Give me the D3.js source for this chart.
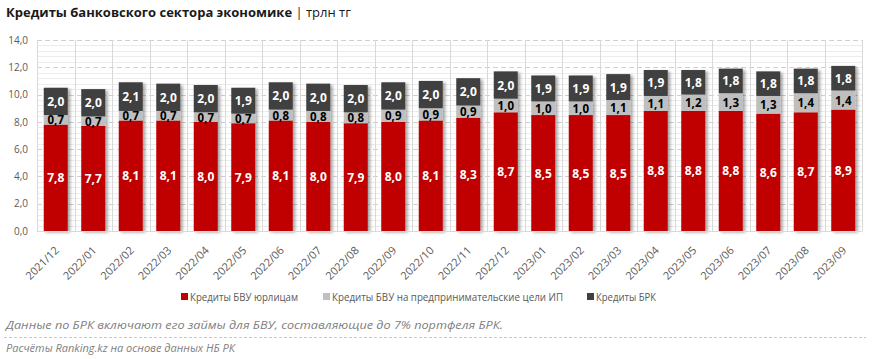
<!DOCTYPE html>
<html><head><meta charset="utf-8">
<script src="https://cdn.jsdelivr.net/npm/d3@7"></script>
<style>
body{margin:0;background:#fff;}
svg{display:block;}
</style></head>
<body>
<svg id="c" width="872" height="359"></svg>
<script>
const categories = ["2021/12","2022/01","2022/02","2022/03","2022/04","2022/05","2022/06","2022/07","2022/08","2022/09","2022/10","2022/11","2022/12","2023/01","2023/02","2023/03","2023/04","2023/05","2023/06","2023/07","2023/08","2023/09"];
const bvuCorp = [7.8,7.7,8.1,8.1,8.0,7.9,8.1,8.0,7.9,8.0,8.1,8.3,8.7,8.5,8.5,8.5,8.8,8.8,8.8,8.6,8.7,8.9];
const bvuIP   = [0.7,0.7,0.7,0.7,0.7,0.7,0.8,0.8,0.8,0.9,0.9,0.9,1.0,1.0,1.0,1.1,1.1,1.2,1.3,1.3,1.4,1.4];
const brk     = [2.0,2.0,2.1,2.0,2.0,1.9,2.0,2.0,2.0,2.0,2.0,2.0,2.0,1.9,1.9,1.9,1.9,1.8,1.8,1.8,1.8,1.8];
const seriesNames = ["Кредиты БВУ юрлицам","Кредиты БВУ на предпринимательские цели ИП","Кредиты БРК"];
const seriesColors = ["#C00000","#BFBFBF","#404040"];
const labelColors = ["#FFFFFF","#000000","#FFFFFF"];
const yTicks = [0,2,4,6,8,10,12,14];
const title = "Кредиты банковского сектора экономике";
const unit = "| трлн тг";
const note1 = "Данные по БРК включают его займы для БВУ, составляющие до 7% портфеля БРК.";
const note2 = "Расчёты Ranking.kz на основе данных НБ РК";

const svg = d3.select("#c");
const L=37, R=862, T=40, B=231;
const x = d3.scaleBand().domain(categories).range([L,R]).paddingInner(0.36).paddingOuter(0.18);
const xb = d3.scaleBand().domain(categories).range([L,R]);
const y = d3.scaleLinear().domain([0,14]).range([B,T]);

const defs = svg.append("defs");
const f = defs.append("filter").attr("id","sh").attr("x","-20%").attr("y","-10%").attr("width","160%").attr("height","130%");
f.append("feDropShadow").attr("dx",2.5).attr("dy",1.5).attr("stdDeviation",1.6).attr("flood-color","#000").attr("flood-opacity",0.35);

// minor grid
const minor = d3.range(0,14.001,0.4).filter(v=>Math.abs(v/2-Math.round(v/2))>0.01);
svg.append("g").selectAll("line").data(minor).join("line")
  .attr("x1",L).attr("x2",R).attr("y1",d=>Math.round(y(d))+0.5).attr("y2",d=>Math.round(y(d))+0.5)
  .attr("stroke","#EDEDED").attr("stroke-width",1);
// major grid
svg.append("g").selectAll("line").data(yTicks.filter(d=>d>0)).join("line")
  .attr("x1",L).attr("x2",R).attr("y1",d=>Math.round(y(d))+0.5).attr("y2",d=>Math.round(y(d))+0.5)
  .attr("stroke","#D0D0D0").attr("stroke-width",1).attr("stroke-dasharray","5,3");
// vertical grid
svg.append("g").selectAll("line").data(categories.slice(1).concat(["_end"])).join("line")
  .attr("x1",(d,i)=>Math.round(i<categories.length-1?xb(d):R)+0.5)
  .attr("x2",(d,i)=>Math.round(i<categories.length-1?xb(d):R)+0.5)
  .attr("y1",T).attr("y2",B).attr("stroke","#D9D9D9");
// left axis line
svg.append("line").attr("x1",L+0.5).attr("x2",L+0.5).attr("y1",T).attr("y2",B).attr("stroke","#D9D9D9");

// stacks
const rows = categories.map((c,i)=>({cat:c, s0:bvuCorp[i], s1:bvuIP[i], s2:brk[i]}));
const stack = d3.stack().keys(["s0","s1","s2"])(rows);
const gBars = svg.append("g").attr("filter","url(#sh)");
stack.forEach((layer,k)=>{
  gBars.append("g").selectAll("rect").data(layer).join("rect")
    .attr("x",d=>x(d.data.cat)).attr("width",x.bandwidth())
    .attr("y",d=>y(d[1])).attr("height",d=>y(d[0])-y(d[1]))
    .attr("fill",seriesColors[k]);
});
// labels
const fmt = v=>v.toFixed(1).replace(".",",");
stack.forEach((layer,k)=>{
  svg.append("g").selectAll("text").data(layer).join("text")
    .attr("x",d=>x(d.data.cat)+x.bandwidth()/2)
    .attr("y",d=>(y(d[0])+y(d[1]))/2 + 4.5)
    .attr("text-anchor","middle")
    .attr("font-family","'Open Sans', sans-serif").attr("font-weight","bold")
    .attr("font-size",k===1?11.5:12)
    .attr("fill",labelColors[k])
    .text(d=>fmt(d[1]-d[0]));
});

// bottom axis line
svg.append("line").attr("x1",L).attr("x2",R).attr("y1",B+0.5).attr("y2",B+0.5).attr("stroke","#D9D9D9");

// y axis
const yAx = svg.append("g").attr("transform",`translate(${L},0)`)
  .call(d3.axisLeft(y).tickValues(yTicks).tickSize(0).tickPadding(9).tickFormat(d=>d.toFixed(1).replace(".",",")));
yAx.select(".domain").remove();
yAx.selectAll("text").attr("font-family","'Open Sans', sans-serif").attr("font-size",10).attr("fill","#595959");

// x axis
const xAx = svg.append("g").attr("transform",`translate(0,${B})`)
  .call(d3.axisBottom(xb).tickSize(0).tickPadding(0));
xAx.select(".domain").remove();
xAx.selectAll("text")
  .attr("font-family","'Open Sans', sans-serif").attr("font-size",11).attr("fill","#595959")
  .attr("text-anchor","end").attr("dy",0).attr("y",0)
  .attr("transform","translate(4,20) rotate(-45)");

// title
const tt = svg.append("text").attr("x",6).attr("y",17).attr("font-family","'Open Sans', sans-serif").attr("font-size",13).attr("fill","#1a1a1a");
tt.append("tspan").attr("font-weight","bold").text(title+" ");
tt.append("tspan").attr("font-weight","normal").text(unit);

// legend
const legX = [181, 323, 587];
const legW = [108, 231, 60];
const lg = svg.append("g");
seriesNames.forEach((n,i)=>{
  lg.append("rect").attr("x",legX[i]).attr("y",293).attr("width",7).attr("height",7).attr("fill",seriesColors[i]);
  lg.append("text").attr("x",legX[i]+9).attr("y",301).attr("font-family","'Open Sans', sans-serif").attr("font-size",11)
    .attr("textLength",legW[i]).attr("lengthAdjust","spacingAndGlyphs").attr("fill","#595959").text(n);
});

// notes
svg.append("text").attr("x",6).attr("y",329).attr("font-family","'Open Sans', sans-serif").attr("font-style","italic").attr("font-size",11.5)
  .attr("textLength",497).attr("lengthAdjust","spacingAndGlyphs").attr("fill","#808080").text(note1);
svg.append("line").attr("x1",4).attr("x2",866).attr("y1",337.5).attr("y2",337.5).attr("stroke","#C8C8C8").attr("stroke-dasharray","3,2");
svg.append("text").attr("x",6).attr("y",352).attr("font-family","'Open Sans', sans-serif").attr("font-style","italic").attr("font-size",11.5)
  .attr("textLength",229).attr("lengthAdjust","spacingAndGlyphs").attr("fill","#808080").text(note2);
</script>
</body></html>
